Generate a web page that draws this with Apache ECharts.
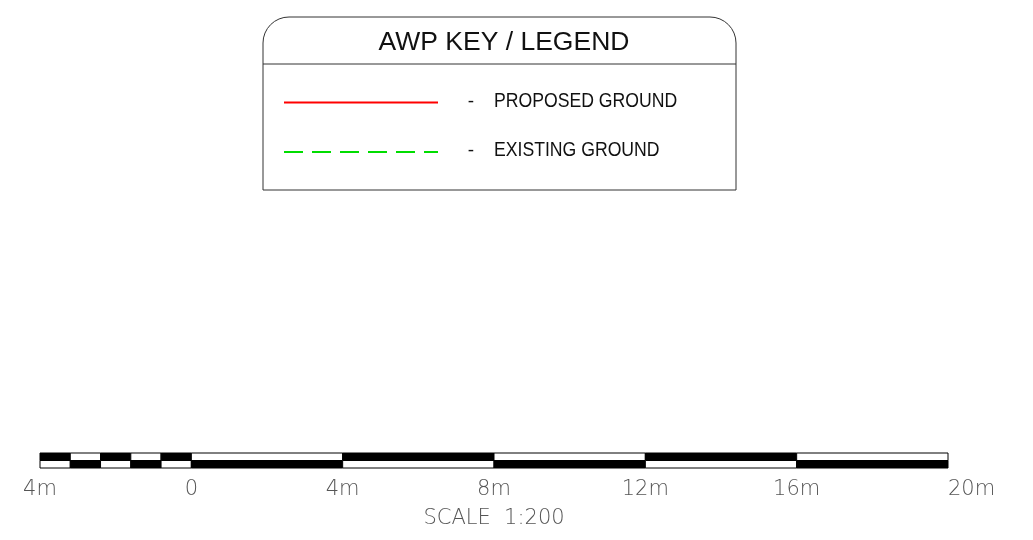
<!DOCTYPE html>
<html>
<head>
<meta charset="utf-8">
<script src="https://cdn.jsdelivr.net/npm/echarts@6/dist/echarts.min.js"></script>
<style>html,body{margin:0;padding:0;background:#fff}#c{width:1033px;height:540px}</style>
</head>
<body>
<div id="c"></div>
<script>
// Scale bar segment boundaries (metres)
const scaleBreaks = [-4, -3.2, -2.4, -1.6, -0.8, 0, 4, 8, 12, 16, 20];
// 1 = black in the top row for each segment; bottom row is the inverse
const topRowBlack = [1, 0, 1, 0, 1, 0, 1, 0, 1, 0];
const tickValues = [-4, 0, 4, 8, 12, 16, 20];
const tickLabels = ['4m', '0', '4m', '8m', '12m', '16m', '20m'];
const scaleTitle = 'SCALE  1:200';
// Legend box content
const legendTitle = 'AWP KEY / LEGEND';
const legendNames = ['PROPOSED GROUND', 'EXISTING GROUND'];
const legendColors = ['#ff0000', '#00dd00'];
const legendDashed = [false, true];

const cells = [];
for (let i = 0; i < scaleBreaks.length - 1; i++) {
  cells.push([scaleBreaks[i], scaleBreaks[i + 1], 1, topRowBlack[i]]);
  cells.push([scaleBreaks[i], scaleBreaks[i + 1], 0, 1 - topRowBlack[i]]);
}

const chart = echarts.init(document.getElementById('c'), null, {renderer: 'canvas'});

const graphics = [];
const bx = 263, by = 17, bw = 473, bh = 173;
graphics.push({type: 'rect', shape: {x: bx, y: by, width: bw, height: bh, r: [26, 26, 0, 0]},
  style: {fill: '#fff', stroke: '#333', lineWidth: 1}});
graphics.push({type: 'line', shape: {x1: bx, y1: 64, x2: bx + bw, y2: 64}, style: {stroke: '#333', lineWidth: 1}});
graphics.push({type: 'text', x: 504, y: 43, style: {text: legendTitle, fill: '#111', font: '26.5px "Liberation Sans", Arial, sans-serif', align: 'center', verticalAlign: 'middle'}});
const rowY = [102.5, 152];
legendNames.forEach((n, i) => {
  graphics.push({type: 'line', shape: {x1: 284, y1: rowY[i], x2: 438, y2: rowY[i]},
    style: {stroke: legendColors[i], lineWidth: 2, lineDash: legendDashed[i] ? [19, 9] : null}});
  graphics.push({type: 'text', x: 471, y: rowY[i] - 1, style: {text: '-', fill: '#111', font: '19px "Liberation Sans", sans-serif', align: 'center', verticalAlign: 'middle'}});
  graphics.push({type: 'text', x: 494, y: rowY[i] - 1.5, scaleX: 0.86, originX: 0, originY: 0,
    style: {text: n, fill: '#111', font: '20.5px "Liberation Sans", sans-serif', align: 'left', verticalAlign: 'middle'}});
});

const scaleFont = {fontSize: 21, color: '#555', fontFamily: '"DejaVu Sans", sans-serif', fontWeight: 200};

chart.setOption({
  animation: false,
  backgroundColor: '#fff',
  grid: {left: 40, right: 1033 - 948, top: 453, height: 15},
  xAxis: {
    type: 'value', min: -4, max: 20, interval: 4,
    axisLine: {show: false}, axisTick: {show: false}, splitLine: {show: false},
    axisLabel: Object.assign({
      margin: 11,
      alignMaxLabel: 'left', alignMinLabel: 'center',
      formatter: v => { const k = tickValues.indexOf(v); return k >= 0 ? tickLabels[k] : ''; }
    }, scaleFont),
    name: scaleTitle, nameLocation: 'middle', nameGap: 40,
    nameTextStyle: Object.assign({}, scaleFont)
  },
  yAxis: {type: 'value', min: 0, max: 2, show: false},
  graphic: graphics,
  series: [{
    type: 'custom',
    data: cells,
    renderItem: (params, api) => {
      const p1 = api.coord([api.value(0), api.value(2) + 1]);
      const p2 = api.coord([api.value(1), api.value(2)]);
      return {type: 'rect', shape: {x: p1[0], y: p1[1], width: p2[0] - p1[0], height: p2[1] - p1[1]},
        style: {fill: api.value(3) ? '#000' : '#fff', stroke: '#000', lineWidth: 1}};
    }
  }]
});
</script>
</body>
</html>
